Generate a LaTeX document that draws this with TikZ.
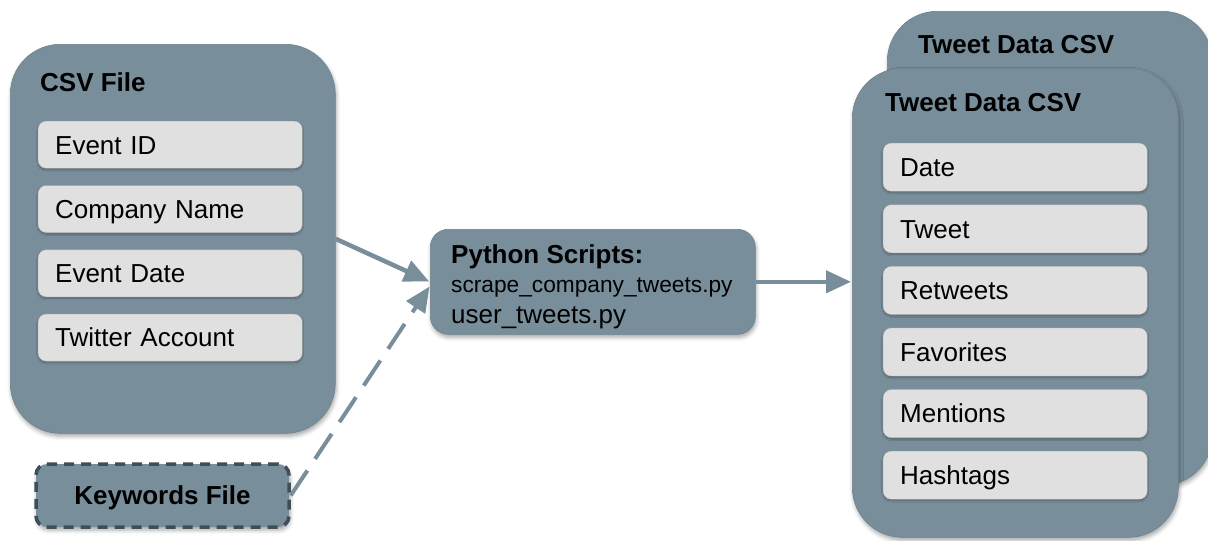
\documentclass[tikz,border=0pt]{standalone}
\usepackage{fontspec}
\setmainfont{Liberation Sans}
\usetikzlibrary{arrows.meta,shadows.blur,calc}
\definecolor{boxc}{RGB}{120,142,154}
\definecolor{itemc}{RGB}{224,224,224}
\definecolor{dashc}{RGB}{62,79,87}
\begin{document}
\begin{tikzpicture}[x=1pt,y=-1pt,
  shd/.style={blur shadow={shadow xshift=1pt, shadow yshift=-3pt, shadow blur radius=4pt, shadow opacity=35}},
  bigbox/.style={shd, fill=boxc, draw=boxc!92!black, line width=0.6pt, rounded corners=50pt, inner sep=0pt, anchor=north west},
  pybox/.style={shd, fill=boxc, draw=boxc!92!black, line width=0.6pt, rounded corners=18pt, inner sep=0pt, anchor=north west, minimum width=325pt, minimum height=105pt},
  kwbox/.style={fill=boxc, draw=dashc, line width=3.5pt, dash pattern=on 10pt off 7pt, rounded corners=11pt, inner sep=0pt, minimum width=253pt, minimum height=63pt, font=\fontsize{26pt}{30pt}\selectfont\bfseries, text height=18.6pt, text depth=0pt},
  item/.style={fill=itemc, draw=itemc!85!black, line width=0.4pt, rounded corners=8pt, inner xsep=17pt, inner ysep=0pt, text width=230pt, align=left, minimum height=47pt, anchor=north west, font=\fontsize{26pt}{30pt}\selectfont, text height=18.6pt, text depth=0pt, blur shadow={shadow xshift=0pt, shadow yshift=-1.5pt, shadow blur radius=1.5pt, shadow opacity=30}},
  ttl/.style={font=\fontsize{26pt}{30pt}\selectfont\bfseries, inner sep=0pt, anchor=west, text height=18.6pt, text depth=0pt},
  txt/.style={inner sep=0pt, anchor=base west},
  arr/.style={draw=boxc, line width=4.5pt, -{Triangle[length=25pt,width=22pt]}, shorten >=1pt}
]
\useasboundingbox (0,0) rectangle (1208,541);

% CSV File
\node[bigbox, minimum width=325pt, minimum height=389pt] (csv) at (10,44) {};
\node[ttl] (csvt) at (40,82.5) {CSV File};
\foreach \t [count=\i from 0] in {Event ID, Company Name, Event Date, Twitter Account} {
  \node[item] (ci\i) at (38,{121+64.3*\i}) {\t};
}

% Keywords
\node[kwbox, shd] (kw) at (162.5,495.5) {Keywords File};

% Python
\node[pybox] (py) at (430,229) {};
\node[txt, font=\fontsize{26pt}{30pt}\selectfont\bfseries] (pyt) at (451,263) {Python Scripts:};
\node[txt, font=\fontsize{22.7pt}{26pt}\selectfont] (py1) at (451,292) {scrape\_company\_tweets.py};
\node[txt, font=\fontsize{26pt}{30pt}\selectfont] (py2) at (451,323) {user\_tweets.py};

% Tweet Data CSV (back and front)
\node[bigbox, minimum width=325pt, minimum height=474pt] (back) at (887,11) {};
\node[ttl] (backt) at (918,44) {Tweet Data CSV};
\node[bigbox, minimum width=326pt, minimum height=469pt] (front) at (852,68) {};
\node[ttl] (frontt) at (885,102) {Tweet Data CSV};
\foreach \t [count=\i from 0] in {Date, Tweet, Retweets, Favorites, Mentions, Hashtags} {
  \node[item, text width=230pt, minimum height=48pt] (ti\i) at (883,{143+61.6*\i}) {\t};
}

% Connectors
\coordinate (kwin) at ($(py.west)+(0,4)$);
\draw[arr] (csv.east) -- (py.west);
\draw[arr, line width=4pt, dash pattern=on 30pt off 14pt] (kw.east) -- (kwin);
\draw[arr] (py.east) -- (py.east -| front.west);
\end{tikzpicture}
\end{document}
